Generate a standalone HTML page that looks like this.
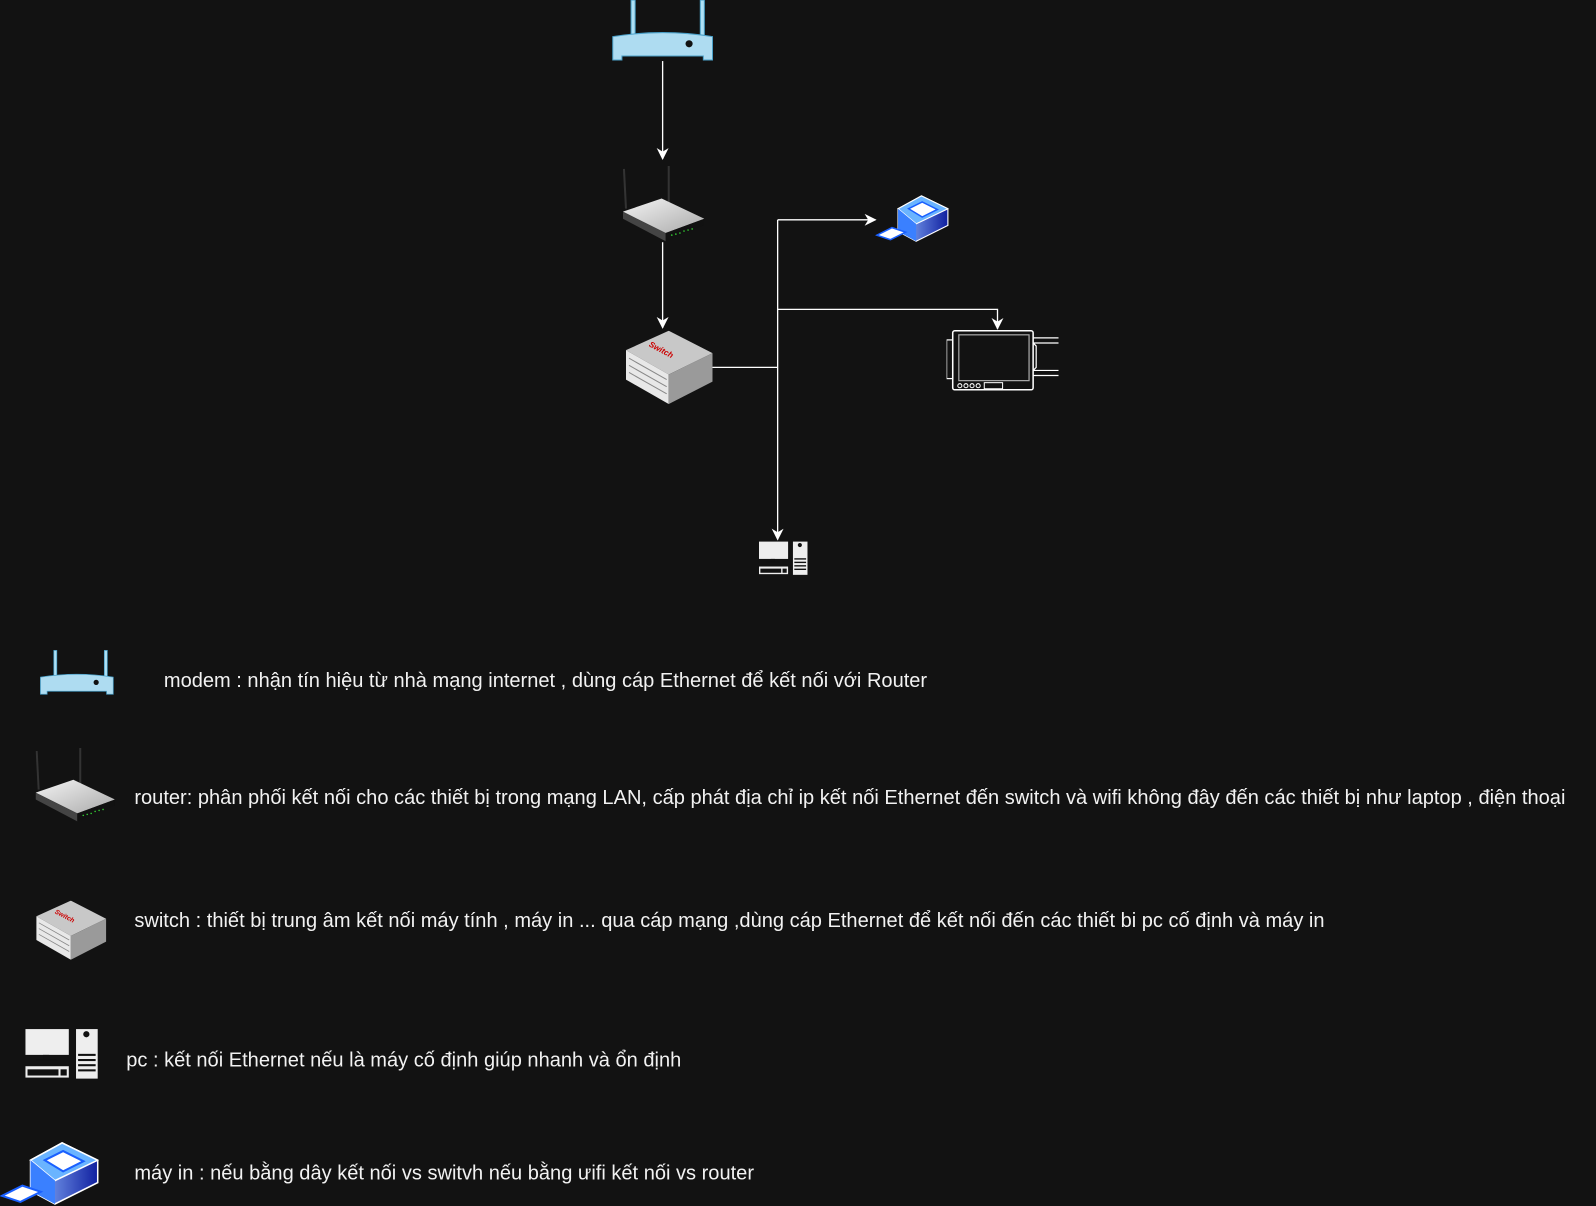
<!DOCTYPE html>
<html><head><meta charset="utf-8"><style>
html,body{margin:0;padding:0;background:#121212;}
svg{display:block}
text{font-family:"Liberation Sans",Arial,sans-serif;font-size:19.7px;fill:#f2f2f2}
</style></head><body>
<svg width="1596" height="1206" viewBox="0 0 1568 1185" preserveAspectRatio="none" xmlns="http://www.w3.org/2000/svg">
<defs>
<marker id="ar" viewBox="0 0 10 10" refX="9" refY="5" markerWidth="9" markerHeight="9" orient="auto"><path d="M0,0 L10,5 L0,10 L3,5 Z" fill="#fff"/></marker>
<linearGradient id="rg" x1="0" y1="0" x2="1" y2="1"><stop offset="0" stop-color="#f4f4f4"/><stop offset="1" stop-color="#aaa"/></linearGradient>
<linearGradient id="pg" x1="0" y1="0" x2="1" y2="0"><stop offset="0" stop-color="#8fb8ff"/><stop offset="1" stop-color="#1020a0"/></linearGradient>
<symbol id="modem" viewBox="0 0 100 60">
 <rect x="19" y="0" width="4" height="40" fill="#aee0f5" stroke="#4aa0c8" stroke-width="1"/>
 <rect x="87" y="0" width="4" height="40" fill="#aee0f5" stroke="#4aa0c8" stroke-width="1"/>
 <path d="M1,36 Q50,28 99,36 L99,59 L90,59 L90,55 L10,55 L10,59 L1,59 Z" fill="#aedcf1" stroke="#4aa0c8" stroke-width="1"/>
 <circle cx="76" cy="43" r="3.5" fill="#111"/>
</symbol>
<symbol id="router" viewBox="0 0 80 75">
 <line x1="1" y1="3" x2="3" y2="42" stroke="#333" stroke-width="2"/>
 <line x1="45" y1="0" x2="45" y2="38" stroke="#333" stroke-width="2"/>
 <path d="M0,45 L38,32 L80,52 L42,66 Z" fill="url(#rg)"/>
 <path d="M0,45 L42,66 L42,74 L0,52 Z" fill="#444"/>
 <path d="M42,66 L80,52 L80,58 L42,74 Z" fill="#111"/>
 <g fill="#3c3"><circle cx="48" cy="68" r="0.8"/><circle cx="52" cy="67" r="0.8"/><circle cx="56" cy="66" r="0.8"/><circle cx="60" cy="64" r="0.8"/><circle cx="64" cy="63" r="0.8"/><circle cx="68" cy="62" r="0.8"/></g>
</symbol>
<symbol id="switch" viewBox="0 0 85 72">
 <path d="M0,19 L42,0 L85,22 L42,43 Z" fill="#c8c8c8"/>
 <path d="M0,19 L42,43 L42,72 L0,48 Z" fill="#e8e8e8"/>
 <path d="M42,43 L85,22 L85,50 L42,72 Z" fill="#9a9a9a"/>
 <g stroke="#888" stroke-width="1"><line x1="3" y1="27" x2="40" y2="48"/><line x1="3" y1="34" x2="40" y2="55"/><line x1="3" y1="41" x2="40" y2="62"/></g>
 <text x="22" y="15" transform="rotate(28 22 15)" style="font-size:8px;fill:#c00;font-style:italic;font-weight:bold">Switch</text>
</symbol>
<symbol id="pc" viewBox="0 0 72 50">
 <rect x="1" y="1" width="42" height="25" fill="#eee"/>
 <rect x="18" y="26" width="6" height="4" fill="#111"/>
 <rect x="11" y="30" width="20" height="2" fill="#111"/>
 <rect x="1" y="37" width="42" height="11" fill="#eee"/><rect x="3" y="40" width="30" height="6" fill="#111"/><rect x="35" y="40" width="6" height="6" fill="#111"/>
 <rect x="50" y="1" width="21" height="48" fill="#eee"/><circle cx="60" cy="6" r="3" fill="#111"/>
 <g fill="#111"><rect x="52" y="25" width="17" height="2"/><rect x="52" y="30" width="17" height="2"/><rect x="52" y="35" width="17" height="2"/><rect x="52" y="40" width="17" height="2"/></g>
</symbol>
<symbol id="printer" viewBox="0 0 97 64">
 <path d="M30,20 L61,3 L96,20 L96,42 L54,63 L30,50 Z" fill="url(#pg)" stroke="#fff" stroke-width="1.5"/>
 <path d="M30,20 L61,3 L96,20 L54,40 Z" fill="#6ab4ff" stroke="#fff" stroke-width="1.5"/>
 <path d="M44,20 L62,11 L82,21 L62,31 Z" fill="#fff" stroke="#1a60ff" stroke-width="2"/>
 <path d="M30,20 L54,40 L54,63 L30,50 Z" fill="#3a80ff"/>
 <path d="M2,55 L22,45 L40,51 L20,61 Z" fill="#fff" stroke="#1a60ff" stroke-width="2"/>
</symbol>
<symbol id="tablet" viewBox="0 0 110 60">
 <rect x="0" y="10" width="6" height="38" fill="none" stroke="#fff" stroke-width="1.2"/>
 <rect x="6" y="1" width="79" height="58" rx="2" fill="none" stroke="#fff" stroke-width="1.5"/>
 <rect x="12" y="5" width="69" height="45" fill="none" stroke="#aaa" stroke-width="1.2"/>
 <g fill="none" stroke="#fff" stroke-width="1"><circle cx="13" cy="55" r="2"/><circle cx="19" cy="55" r="2"/><circle cx="25" cy="55" r="2"/><circle cx="31" cy="55" r="2"/><rect x="37" y="52" width="18" height="6"/></g>
 <path d="M85,8 L110,8 M85,13 L110,13 M85,40 L110,40 M85,45 L110,45 M85,13 L88,16 L88,37 L85,40" fill="none" stroke="#fff" stroke-width="1.2"/>
</symbol>
</defs>

<g stroke="#fff" stroke-width="1.3" fill="none">
<line x1="651" y1="60" x2="651" y2="156" marker-end="url(#ar)"/>
<line x1="651" y1="238" x2="651" y2="322" marker-end="url(#ar)"/>
<polyline points="700,361 764,361"/>
<line x1="764" y1="216" x2="764" y2="530" marker-end="url(#ar)"/>
<line x1="764" y1="216" x2="860" y2="216" marker-end="url(#ar)"/>
<polyline points="764,304 980,304 980,323" marker-end="url(#ar)"/>
</g>

<use href="#modem" x="601" y="0" width="100" height="60"/>
<use href="#router" x="612" y="163" width="80" height="75"/>
<use href="#switch" x="615" y="325" width="85" height="72"/>
<use href="#printer" x="860" y="190" width="72" height="48"/>
<use href="#tablet" x="930" y="324" width="110" height="60"/>
<use href="#pc" x="745" y="531" width="49" height="35"/>

<use href="#modem" x="39" y="637" width="73" height="48"/>
<use href="#router" x="35" y="735" width="78" height="73"/>
<use href="#switch" x="35" y="885" width="70" height="58"/>
<use href="#pc" x="24" y="1010" width="73" height="51"/>
<use href="#printer" x="0" y="1120" width="97" height="64"/>

<text x="161" y="675">modem : nhận tín hiệu từ nhà mạng internet , dùng cáp Ethernet để kết nối với Router</text>
<text x="132" y="790">router: phân phối kết nối cho các thiết bị trong mạng LAN, cấp phát địa chỉ ip kết nối Ethernet đến switch và wifi không đây đến các thiết bị như laptop , điện thoại</text>
<text x="132" y="911">switch : thiết bị trung âm kết nối máy tính , máy in ... qua cáp mạng ,dùng cáp Ethernet để kết nối đến các thiết bi pc cố định và máy in</text>
<text x="124" y="1048">pc : kết nối Ethernet nếu là máy cố định giúp nhanh và ổn định</text>
<text x="132" y="1159">máy in : nếu bằng dây kết nối vs switvh nếu bằng ưifi kết nối vs router</text>
</svg>
</body></html>
